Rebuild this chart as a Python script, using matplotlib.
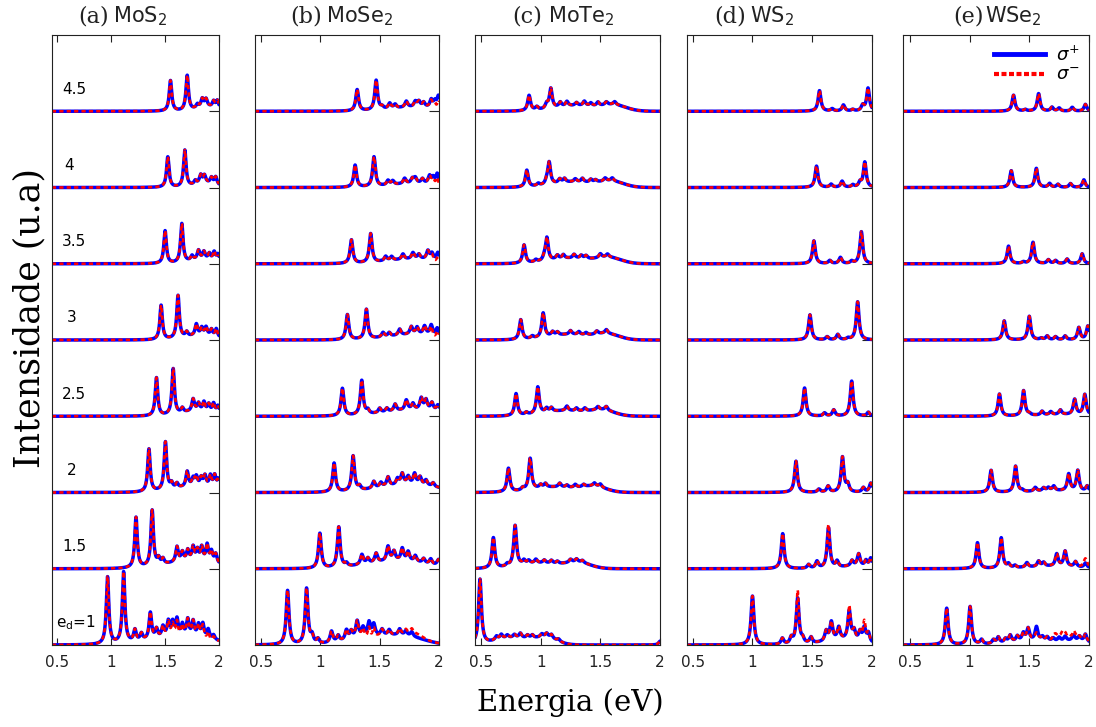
import numpy as np
import matplotlib.pyplot as plt
from matplotlib.lines import Line2D

# e_d values, bottom curve first
ed_labels = ['e$_{\\rm d}$=1', '1.5', '2', '2.5', '3', '3.5', '4', '4.5']
label_x = [0.49, 0.545, 0.59, 0.545, 0.59, 0.545, 0.565, 0.545]
letters = ['(a)', '(b)', '(c)', '(d)', '(e)']
materials = ['MoS$_2$', 'MoSe$_2$', 'MoTe$_2$', 'WS$_2$', 'WSe$_2$']

# sharp peaks (energy eV, height), bottom curve first
mos2_peaks = [
    [(0.966, 0.88), (1.115, 0.93), (1.22, 0.15), (1.28, 0.09), (1.363, 0.35), (1.42, 0.12), (1.48, 0.14),
     (1.53, 0.20), (1.57, 0.18), (1.61, 0.22), (1.66, 0.15), (1.71, 0.22), (1.76, 0.20), (1.81, 0.16),
     (1.85, 0.18), (1.90, 0.12), (1.95, 0.06)],
    [(1.23, 0.66), (1.38, 0.73), (1.44, 0.08), (1.48, 0.07), (1.61, 0.20), (1.66, 0.12), (1.71, 0.14),
     (1.76, 0.18), (1.80, 0.14), (1.84, 0.18), (1.89, 0.22), (1.93, 0.14), (1.97, 0.12)],
    [(1.35, 0.56), (1.503, 0.63), (1.56, 0.07), (1.61, 0.06), (1.705, 0.20), (1.76, 0.10), (1.79, 0.12),
     (1.835, 0.11), (1.87, 0.14), (1.92, 0.15), (1.96, 0.16), (1.995, 0.12)],
    [(1.42, 0.50), (1.575, 0.60), (1.66, 0.06), (1.76, 0.16), (1.81, 0.10), (1.86, 0.12), (1.905, 0.10),
     (1.95, 0.12), (1.99, 0.10)],
    [(1.463, 0.45), (1.62, 0.56), (1.70, 0.06), (1.79, 0.15), (1.84, 0.10), (1.88, 0.11), (1.93, 0.09),
     (1.975, 0.11)],
    [(1.50, 0.43), (1.655, 0.51), (1.75, 0.06), (1.81, 0.12), (1.86, 0.10), (1.91, 0.08), (1.955, 0.11),
     (1.99, 0.09)],
    [(1.525, 0.40), (1.683, 0.48), (1.78, 0.05), (1.83, 0.11), (1.865, 0.10), (1.93, 0.08), (1.97, 0.10)],
    [(1.55, 0.40), (1.705, 0.46), (1.80, 0.05), (1.845, 0.11), (1.88, 0.10), (1.95, 0.08), (1.985, 0.10)],
]
mose2_peaks = [
    [(0.724, 0.71), (0.884, 0.73), (0.93, 0.10), (0.98, 0.06), (1.094, 0.15), (1.15, 0.08), (1.22, 0.13),
     (1.26, 0.10), (1.31, 0.22), (1.36, 0.12), (1.41, 0.18), (1.45, 0.15), (1.52, 0.08), (1.58, 0.07),
     (1.668, 0.08), (1.72, 0.06), (1.77, 0.06)],
    [(0.996, 0.46), (1.155, 0.53), (1.22, 0.04), (1.35, 0.13), (1.40, 0.07), (1.47, 0.12), (1.57, 0.19),
     (1.62, 0.12), (1.69, 0.16), (1.74, 0.12), (1.80, 0.08), (1.87, 0.06), (1.93, 0.07), (1.995, 0.08)],
    [(1.116, 0.38), (1.276, 0.46), (1.33, 0.05), (1.45, 0.09), (1.51, 0.06), (1.57, 0.12), (1.65, 0.08),
     (1.69, 0.14), (1.74, 0.10), (1.794, 0.14), (1.84, 0.10), (1.89, 0.07), (1.95, 0.05)],
    [(1.186, 0.36), (1.349, 0.45), (1.40, 0.05), (1.50, 0.06), (1.56, 0.05), (1.63, 0.09), (1.724, 0.13),
     (1.78, 0.08), (1.85, 0.15), (1.89, 0.13), (1.94, 0.10), (1.99, 0.08)],
    [(1.228, 0.33), (1.388, 0.39), (1.528, 0.06), (1.58, 0.05), (1.668, 0.08), (1.766, 0.10), (1.815, 0.09),
     (1.878, 0.11), (1.934, 0.13), (1.985, 0.10)],
    [(1.262, 0.31), (1.424, 0.38), (1.55, 0.06), (1.60, 0.05), (1.696, 0.07), (1.78, 0.08), (1.83, 0.06),
     (1.906, 0.11), (1.94, 0.08), (1.99, 0.10)],
    [(1.293, 0.29), (1.452, 0.39), (1.57, 0.06), (1.61, 0.05), (1.71, 0.07), (1.775, 0.06), (1.80, 0.07),
     (1.86, 0.06), (1.92, 0.10), (1.95, 0.08), (1.985, 0.14)],
    [(1.31, 0.28), (1.47, 0.39), (1.52, 0.03), (1.584, 0.07), (1.63, 0.05), (1.724, 0.08), (1.80, 0.07),
     (1.83, 0.07), (1.87, 0.06), (1.934, 0.10), (1.965, 0.08), (1.995, 0.16)],
]
mote2_peaks = [
    [(0.492, 0.85), (0.63, 0.05), (0.67, 0.06), (0.72, 0.04), (0.78, 0.04), (0.83, 0.06), (0.89, 0.04),
     (0.93, 0.04), (1.01, 0.04), (1.05, 0.05), (1.09, 0.05), (1.15, 0.03), (2.0, 0.05)],
    [(0.604, 0.40), (0.72, 0.03), (0.786, 0.53), (0.86, 0.05), (0.90, 0.04), (0.96, 0.05), (1.03, 0.04),
     (1.09, 0.04), (1.14, 0.03), (1.25, 0.04), (1.30, 0.04), (1.35, 0.03)],
    [(0.73, 0.31), (0.85, 0.03), (0.912, 0.41), (1.00, 0.04), (1.04, 0.05), (1.16, 0.05), (1.22, 0.03),
     (1.29, 0.04), (1.36, 0.03), (1.45, 0.04), (1.50, 0.04)],
    [(0.794, 0.29), (0.88, 0.03), (0.976, 0.35), (1.05, 0.05), (1.09, 0.05), (1.22, 0.06), (1.30, 0.04),
     (1.37, 0.04), (1.48, 0.04), (1.55, 0.05)],
    [(0.833, 0.26), (0.93, 0.03), (1.021, 0.32), (1.10, 0.05), (1.14, 0.04), (1.25, 0.05), (1.32, 0.04),
     (1.38, 0.03), (1.47, 0.04), (1.55, 0.05)],
    [(0.861, 0.24), (0.96, 0.03), (1.03, 0.04), (1.052, 0.30), (1.14, 0.05), (1.19, 0.05), (1.28, 0.05),
     (1.34, 0.04), (1.38, 0.04), (1.50, 0.05), (1.56, 0.04)],
    [(0.884, 0.22), (0.98, 0.03), (1.05, 0.04), (1.071, 0.29), (1.16, 0.05), (1.20, 0.05), (1.29, 0.04),
     (1.35, 0.05), (1.42, 0.04), (1.46, 0.03), (1.54, 0.04), (1.60, 0.04)],
    [(0.903, 0.20), (0.968, 0.04), (1.05, 0.06), (1.085, 0.26), (1.164, 0.06), (1.22, 0.06), (1.30, 0.04),
     (1.366, 0.06), (1.42, 0.04), (1.48, 0.05), (1.55, 0.04), (1.62, 0.04)],
]
ws2_peaks = [
    [(1.0, 0.64), (1.25, 0.08), (1.325, 0.08), (1.378, 0.60), (1.42, 0.06), (1.49, 0.08), (1.617, 0.13),
     (1.66, 0.24), (1.722, 0.16), (1.81, 0.38), (1.85, 0.12), (1.90, 0.12), (1.936, 0.18), (1.97, 0.12)],
    [(1.253, 0.46), (1.47, 0.05), (1.54, 0.09), (1.636, 0.53), (1.708, 0.08), (1.833, 0.07), (1.889, 0.16),
     (1.95, 0.08), (1.99, 0.12)],
    [(1.364, 0.41), (1.556, 0.04), (1.633, 0.08), (1.753, 0.46), (1.797, 0.10), (1.928, 0.06), (1.99, 0.12)],
    [(1.436, 0.37), (1.603, 0.04), (1.68, 0.08), (1.83, 0.46), (1.97, 0.05)],
    [(1.481, 0.33), (1.625, 0.04), (1.714, 0.07), (1.80, 0.02), (1.88, 0.50)],
    [(1.514, 0.30), (1.647, 0.04), (1.736, 0.08), (1.83, 0.03), (1.911, 0.42)],
    [(1.536, 0.28), (1.658, 0.04), (1.75, 0.08), (1.84, 0.03), (1.90, 0.06), (1.94, 0.33)],
    [(1.561, 0.27), (1.667, 0.03), (1.761, 0.08), (1.839, 0.02), (1.922, 0.07), (1.967, 0.30)],
]
wse2_peaks = [
    [(0.808, 0.48), (1.004, 0.50), (1.10, 0.06), (1.20, 0.05), (1.24, 0.08), (1.30, 0.05), (1.34, 0.09),
     (1.40, 0.07), (1.45, 0.10), (1.49, 0.16), (1.56, 0.18), (1.61, 0.05), (1.65, 0.05), (1.70, 0.04),
     (1.75, 0.05), (1.80, 0.06), (1.87, 0.07), (1.92, 0.06), (1.97, 0.10)],
    [(1.066, 0.34), (1.265, 0.40), (1.326, 0.05), (1.38, 0.03), (1.48, 0.06), (1.578, 0.07), (1.62, 0.05),
     (1.73, 0.16), (1.80, 0.20), (1.887, 0.07), (1.97, 0.06)],
    [(1.18, 0.29), (1.385, 0.34), (1.44, 0.02), (1.55, 0.05), (1.62, 0.04), (1.66, 0.04), (1.705, 0.06),
     (1.83, 0.22), (1.906, 0.27), (1.985, 0.07)],
    [(1.25, 0.29), (1.452, 0.33), (1.50, 0.02), (1.607, 0.05), (1.68, 0.04), (1.76, 0.06), (1.88, 0.20),
     (1.965, 0.27)],
    [(1.29, 0.25), (1.50, 0.31), (1.60, 0.02), (1.65, 0.05), (1.72, 0.04), (1.80, 0.05), (1.915, 0.16),
     (1.99, 0.18)],
    [(1.326, 0.23), (1.45, 0.02), (1.531, 0.28), (1.66, 0.05), (1.72, 0.04), (1.817, 0.06), (1.943, 0.13)],
    [(1.349, 0.22), (1.559, 0.25), (1.67, 0.05), (1.74, 0.04), (1.845, 0.05), (1.957, 0.10)],
    [(1.368, 0.21), (1.466, 0.02), (1.578, 0.23), (1.69, 0.05), (1.75, 0.04), (1.86, 0.05), (1.97, 0.09)],
]

# broad background humps (energy, height, width)
mos2_bg = [[(1.65, 0.10, 0.30)], [(1.75, 0.09, 0.25)], [(1.78, 0.07, 0.20)], [(1.80, 0.06, 0.15)],
           [(1.82, 0.05, 0.15)], [(1.85, 0.05, 0.12)], [(1.88, 0.05, 0.10)], [(1.90, 0.05, 0.10)]]
mose2_bg = [[(1.45, 0.10, 0.20), (1.75, 0.08, 0.15)], [(1.65, 0.10, 0.25)], [(1.75, 0.10, 0.25)],
            [(1.80, 0.08, 0.25)], [(1.80, 0.07, 0.22)], [(1.80, 0.06, 0.22)], [(1.80, 0.05, 0.20)],
            [(1.80, 0.05, 0.20)]]
mote2_bg = [[(0.78, 0.09, 0.15), (1.05, 0.08, 0.09)], [(1.00, 0.07, 0.18), (1.32, 0.07, 0.10)],
            [(1.12, 0.07, 0.18), (1.45, 0.07, 0.10)], [(1.20, 0.07, 0.18), (1.52, 0.07, 0.10)],
            [(1.24, 0.07, 0.18), (1.56, 0.07, 0.10)], [(1.26, 0.07, 0.18), (1.58, 0.07, 0.10)],
            [(1.28, 0.07, 0.18), (1.60, 0.07, 0.10)], [(1.30, 0.07, 0.18), (1.62, 0.07, 0.10)]]
ws2_bg = [[(1.75, 0.06, 0.15)], [(1.85, 0.03, 0.10)], [], [], [], [], [], []]
wse2_bg = [[(1.55, 0.05, 0.20), (1.90, 0.04, 0.10)], [(1.70, 0.03, 0.20)], [(1.75, 0.02, 0.20)],
           [(1.80, 0.02, 0.20)], [], [], [], []]

# where sigma- departs from sigma+ (curve index, energy, change, width)
mos2_minus = [(0, 1.60, -0.04, 0.05), (0, 1.90, -0.04, 0.05)]
mose2_minus = [(0, 1.42, -0.08, 0.04), (0, 1.80, 0.05, 0.06), (4, 1.97, -0.05, 0.03),
               (5, 1.98, -0.05, 0.03), (6, 1.99, -0.06, 0.03), (7, 1.99, -0.07, 0.03)]
mote2_minus = []
ws2_minus = [(0, 1.378, 0.10, 0.006), (0, 1.81, 0.06, 0.008), (0, 1.936, 0.08, 0.01), (1, 1.636, 0.04, 0.006)]
wse2_minus = [(0, 1.72, 0.08, 0.015), (0, 1.78, 0.11, 0.015), (0, 1.83, 0.08, 0.015), (0, 1.88, 0.06, 0.015),
              (0, 1.56, -0.08, 0.01), (1, 1.97, 0.06, 0.02)]

all_peaks = [mos2_peaks, mose2_peaks, mote2_peaks, ws2_peaks, wse2_peaks]
all_bg = [mos2_bg, mose2_bg, mote2_bg, ws2_bg, wse2_bg]
all_minus = [mos2_minus, mose2_minus, mote2_minus, ws2_minus, wse2_minus]


def spectrum(x, peaks, bg, gamma=0.014):
    y = np.zeros_like(x)
    for e, h in peaks:
        y += h * gamma ** 2 / ((x - e) ** 2 + gamma ** 2)
    for e, h, s in bg:
        y += h * np.exp(-0.5 * ((x - e) / s) ** 2)
    return y


# axes rectangles in figure fraction
lefts = [0.0474, 0.2327, 0.4334, 0.6268, 0.8239]
widths = [0.1524, 0.1679, 0.1688, 0.1688, 0.1697]
x_lo = [0.45, 0.45, 0.45, 0.452, 0.442]
title_x = [(0.156, 0.365), (0.19, 0.386), (0.20, 0.395), (0.146, 0.341), (0.27, 0.44)]

fig = plt.figure(figsize=(10.96, 7.27), dpi=100)
x = np.linspace(0.43, 2.0, 2500)

for p in range(5):
    ax = fig.add_axes([lefts[p], 0.1128, widths[p], 0.839])
    for i in range(8):
        blue = spectrum(x, all_peaks[p][i], all_bg[p][i])
        red = blue.copy()
        for k, e, dh, s in all_minus[p]:
            if k == i:
                red += dh * np.exp(-0.5 * ((x - e) / s) ** 2)
        ax.plot(x, blue + i, color='blue', lw=2.5, solid_capstyle='round')
        ax.plot(x, red + i, color='red', lw=1.9, linestyle=(0, (1.6, 1.2)))
    ax.set_xlim(x_lo[p], 2.0)
    ax.set_ylim(0, 8.0)
    ax.set_xticks([0.5, 1, 1.5, 2])
    ax.set_xticklabels(['0.5', '1', '1.5', '2'])
    ax.set_yticks(range(1, 8))
    ax.tick_params(axis='x', direction='in', top=True, length=5, labelsize=11, pad=7, colors='#222222')
    ax.tick_params(axis='y', direction='in', left=False, right=True, labelleft=False, length=7,
                   colors='#222222')
    for sp in ax.spines.values():
        sp.set_color('#222222')
    ax.text(title_x[p][0], 1.031, letters[p], transform=ax.transAxes, family='DejaVu Serif',
            fontsize=16, va='center', ha='left', color='#222222')
    ax.text(title_x[p][1], 1.031, materials[p], transform=ax.transAxes, fontsize=15,
            va='center', ha='left', color='#222222')
    if p == 0:
        for i in range(8):
            ax.text(label_x[i], i + 0.29, ed_labels[i], fontsize=11, va='center', ha='left')
    if p == 4:
        handles = [Line2D([], [], color='blue', lw=3.5),
                   Line2D([], [], color='red', lw=3, linestyle=(0, (1.2, 0.6)))]
        ax.legend(handles, ['$\\sigma^{+}$', '$\\sigma^{-}$'], loc='upper right', frameon=False,
                  fontsize=13, handlelength=2.8, labelspacing=0.1, borderaxespad=0.15,
                  handletextpad=0.6)

fig.text(0.027, 0.563, 'Intensidade (u.a)', rotation=90, family='DejaVu Serif', fontsize=25,
         va='center', ha='center')
fig.text(0.52, 0.034, 'Energia (eV)', family='DejaVu Serif', fontsize=21, va='center', ha='center')

fig.savefig('out.png', dpi=100)
